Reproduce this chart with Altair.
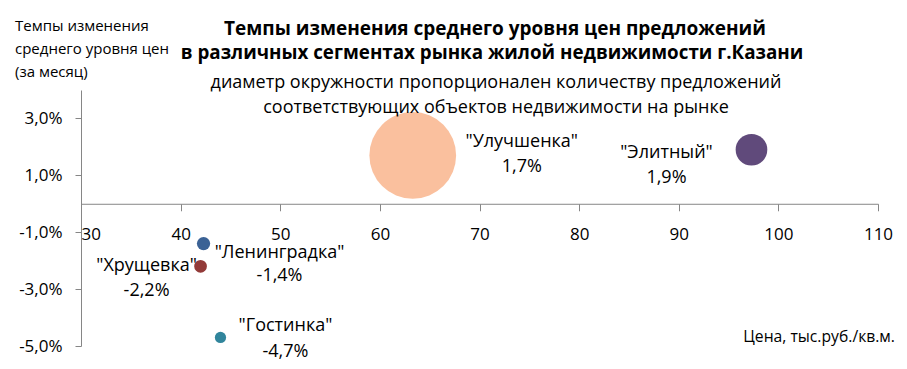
import altair as alt
import pandas as pd

# ---- data ----
names = ["Ленинградка", "Хрущевка", "Гостинка", "Улучшенка", "Элитный"]
price = [42.3, 42.0, 44.0, 63.3, 97.3]          # тыс.руб./кв.м.
change = [-1.4, -2.2, -4.7, 1.7, 1.9]           # % за месяц
offers = [15.3, 14.7, 13.0, 100.0, 36.5]        # relative number of offers (diameter)
colors = ["#3B6295", "#923A38", "#31859C", "#FAC09E", "#604A7B"]

x_ticks = [30, 40, 50, 60, 70, 80, 90, 100, 110]
y_ticks = [-5, -3, -1, 1, 3]
X_DOMAIN = [30, 110]
Y_DOMAIN = [-5, 4]

# ---- layout ----
W, H = 797, 256
FONT = "Open Sans"
AXIS_COLOR = "#868686"

df = pd.DataFrame({
    "name": names,
    "price": price,
    "change": change,
    "offers": offers,
    "label": [f'"{n}"' for n in names],
    "pct": [f"{v:.1f}%".replace(".", ",") for v in change],
})

zero_px = H * (Y_DOMAIN[1] - 0) / (Y_DOMAIN[1] - Y_DOMAIN[0])
x_offset = -(H - zero_px)

x_enc = alt.X(
    "price:Q",
    scale=alt.Scale(domain=X_DOMAIN, nice=False, zero=False),
    axis=alt.Axis(
        values=x_ticks, title=None, grid=False, offset=x_offset,
        domainColor=AXIS_COLOR, tickColor=AXIS_COLOR, tickSize=7,
        labelFont=FONT, labelFontSize=17, labelColor="#000000", labelPadding=16,
        labelAlign=alt.ExprRef(expr="datum.value == 30 ? 'left' : 'center'"),
    ),
)
y_enc = alt.Y(
    "change:Q",
    scale=alt.Scale(domain=Y_DOMAIN, nice=False, zero=False),
    axis=alt.Axis(
        values=y_ticks, title=None, grid=False,
        domainColor=AXIS_COLOR, tickColor=AXIS_COLOR, tickSize=6,
        labelFont=FONT, labelFontSize=17, labelColor="#000000", labelPadding=13,
        labelExpr="(datum.value < 0 ? '-' : '') + replace(format(abs(datum.value), '.1f'), '.', ',') + '%'",
    ),
)

base = alt.Chart(df)

bubbles = base.mark_circle(opacity=1).encode(
    x=x_enc,
    y=y_enc,
    size=alt.Size("offers:Q", scale=alt.Scale(type="pow", exponent=2, domain=[0, 100], range=[0, 86.7 ** 2]), legend=None),
    color=alt.Color("name:N", scale=alt.Scale(domain=names, range=colors), legend=None),
)

# label offsets (pixels) per point: dx, dy of name line, dy of value line
offsets = {
    "Ленинградка": (76, 9, 32),
    "Хрущевка": (-54, 0, 25),
    "Гостинка": (65, -11, 15),
    "Улучшенка": (109, -13, 12),
    "Элитный": (-85, 3, 28),
}

LABEL_SIZE = 18
layers = [bubbles]
for n in names:
    dx, dy1, dy2 = offsets[n]
    sub = base.transform_filter(alt.datum.name == n)
    layers.append(sub.mark_text(font=FONT, fontSize=LABEL_SIZE, color="#000000", dx=dx, dy=dy1, baseline="middle").encode(
        x="price:Q", y="change:Q", text="label:N"))
    layers.append(sub.mark_text(font=FONT, fontSize=LABEL_SIZE, color="#000000", dx=dx, dy=dy2, baseline="middle").encode(
        x="price:Q", y="change:Q", text="pct:N"))

one = pd.DataFrame({"_": [0]})


def note(txt, x, y, size, bold=False, align="center"):
    return alt.Chart(one).mark_text(
        font=FONT, fontSize=size, fontWeight="bold" if bold else "normal",
        color="#000000", align=align, baseline="middle",
    ).encode(x=alt.value(x), y=alt.value(y), text=alt.value(txt))


layers += [
    note("Темпы изменения среднего уровня цен предложений", 414, -61, 19, bold=True),
    note("в различных сегментах рынка жилой недвижимости г.Казани", 411, -37, 18.8, bold=True),
    note("диаметр окружности пропорционален количеству предложений", 415, -7, 18),
    note("соответствующих объектов недвижимости на рынке", 415, 17.7, 18),
    note("Темпы изменения", -66, -64, 15, align="left"),
    note("среднего уровня цен", -66, -41, 15, align="left"),
    note("(за месяц)", -66, -18, 15, align="left"),
    note("Цена, тыс.руб./кв.м.", 814, 247, 15.7, align="right"),
]

chart = alt.layer(*layers).properties(
    width=W, height=H,
    autosize=alt.AutoSizeParams(type="none"),
    padding={"left": 73, "top": 82, "right": 21, "bottom": 15},
).configure_view(stroke=None)

chart.save("out.html", embed_options={"renderer": "svg", "actions": False})
